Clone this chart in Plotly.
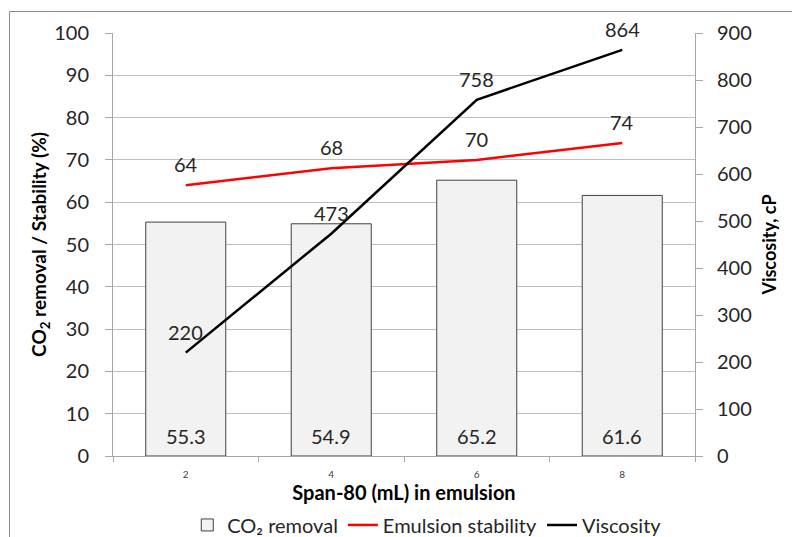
import plotly.graph_objects as go

span80 = ["2", "4", "6", "8"]
co2_removal = [55.3, 54.9, 65.2, 61.6]
emulsion_stability = [64, 68, 70, 74]
viscosity = [220, 473, 758, 864]

FONT = "Lato"
TXT = "#262626"
W, H = 792, 537
ML, MR, MT, MB = 113, 97, 33, 81

fig = go.Figure()
fig.add_trace(go.Bar(
    x=span80, y=co2_removal, name="CO₂ removal",
    marker=dict(color="#f2f2f2", line=dict(color="#404040", width=1)),
    width=0.55,
))
fig.add_trace(go.Scatter(
    x=span80, y=emulsion_stability, name="Emulsion stability",
    mode="lines", line=dict(color="#ff0000", width=2.5),
))
fig.add_trace(go.Scatter(
    x=span80, y=viscosity, name="Viscosity", yaxis="y2",
    mode="lines", line=dict(color="#000000", width=2.5),
))

# annotations on a category axis: x given as category index
annotations = []
for i, v in enumerate(co2_removal):
    annotations.append(dict(x=i, y=0, xref="x", yref="y", text=f"{v:.1f}",
                            showarrow=False, yanchor="middle", yshift=20,
                            font=dict(size=20, family=FONT, color=TXT)))
for i, v in enumerate(emulsion_stability):
    annotations.append(dict(x=i, y=v, xref="x", yref="y", text=str(v),
                            showarrow=False, yanchor="middle", yshift=21,
                            font=dict(size=20, family=FONT, color=TXT)))
for i, v in enumerate(viscosity):
    annotations.append(dict(x=i, y=v, xref="x", yref="y2", text=str(v),
                            showarrow=False, yanchor="middle", yshift=21,
                            font=dict(size=20, family=FONT, color=TXT)))

fig.update_layout(
    width=W, height=H,
    margin=dict(l=ML, r=MR, t=MT, b=MB, autoexpand=False),
    paper_bgcolor="white", plot_bgcolor="white",
    font=dict(family=FONT, color=TXT),
    showlegend=True,
    legend=dict(orientation="h", x=0.54, xanchor="center", y=-0.163, yanchor="middle",
                font=dict(size=20, family=FONT, color=TXT),
                itemwidth=30, tracegroupgap=0, traceorder="normal"),
    annotations=annotations,
    xaxis=dict(
        type="category", range=[-0.5, len(span80) - 0.5],
        showgrid=False, showline=True, linecolor="#a6a6a6", linewidth=1,
        ticks="outside", tickson="boundaries", ticklen=5, tickcolor="#a6a6a6",
        ticklabelstandoff=9,
        tickfont=dict(size=10, family=FONT, color="#404040"),
        title=dict(text="<b>Span-80 (mL) in emulsion</b>", font=dict(size=20, family=FONT, color="#000000"), standoff=2),
    ),
    yaxis=dict(
        range=[0, 100], dtick=10, showgrid=True, gridcolor="#bfbfbf", gridwidth=1,
        showline=True, linecolor="#a6a6a6", linewidth=1,
        ticks="outside", ticklen=7, tickcolor="#a6a6a6", ticklabelstandoff=12,
        tickfont=dict(size=20, family=FONT, color=TXT),
        zeroline=False,
        title=dict(text="<b>CO<sub>2</sub> removal / Stability (%)</b>", font=dict(size=19, family=FONT, color="#000000"), standoff=2),
    ),
    yaxis2=dict(
        range=[0, 900], dtick=100, overlaying="y", side="right", showgrid=False,
        showline=True, linecolor="#a6a6a6", linewidth=1,
        ticks="outside", ticklen=7, tickcolor="#a6a6a6", ticklabelstandoff=10,
        tickfont=dict(size=20, family=FONT, color=TXT),
        zeroline=False,
        title=dict(text="<b>Viscosity, cP</b>", font=dict(size=18, family=FONT, color="#000000"), standoff=12),
    ),
)

pw, ph = W - ML - MR, H - MT - MB
def px(xp): return (xp - ML) / pw
def py(yp): return (H - MB - yp) / ph

fig.add_shape(type="rect", xref="paper", yref="paper",
              x0=px(9.5), x1=px(800), y0=py(11.5), y1=py(545),
              line=dict(color="#8c8c8c", width=1), layer="below")

fig.write_html("out.html")
